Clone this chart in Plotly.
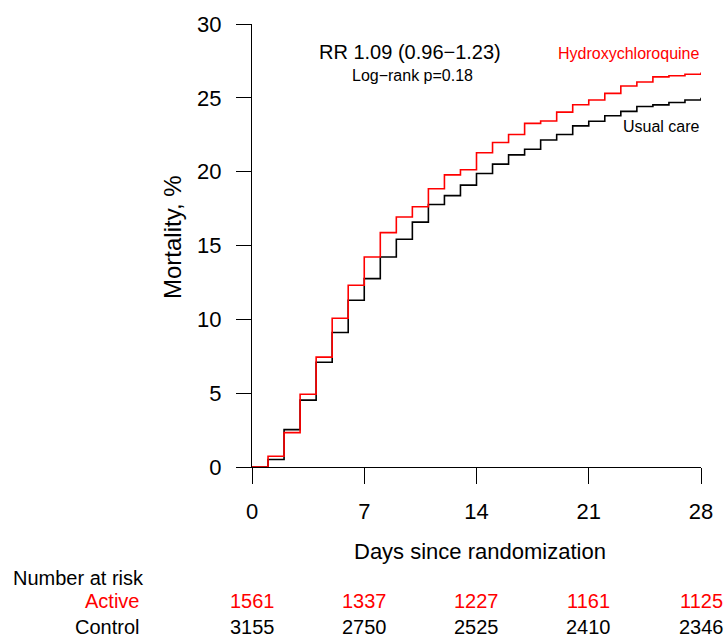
import plotly.graph_objects as go

days = list(range(0, 29))
hcq_mortality = [0, 0.73, 2.33, 4.93, 7.44, 10.07, 12.31, 14.22, 15.87, 16.93, 17.62,
                 18.84, 19.78, 20.13, 21.28, 21.98, 22.52, 23.27, 23.43, 24.03, 24.53,
                 24.85, 25.30, 25.80, 26.07, 26.42, 26.50, 26.60, 26.72]
usual_mortality = [0, 0.51, 2.53, 4.53, 7.09, 9.11, 11.29, 12.76, 14.22, 15.42, 16.58,
                   17.78, 18.38, 19.09, 19.88, 20.51, 21.14, 21.52, 22.14, 22.52, 23.10,
                   23.41, 23.79, 24.08, 24.41, 24.52, 24.68, 24.85, 25.01]
x_ticks = [0, 7, 14, 21, 28]
y_ticks = [0, 5, 10, 15, 20, 25, 30]
risk_days = [0, 7, 14, 21, 28]
active_at_risk = [1561, 1337, 1227, 1161, 1125]
control_at_risk = [3155, 2750, 2525, 2410, 2346]

FONT = "Liberation Sans, Arial, sans-serif"
W, H = 725, 641
# plot area in reference pixels: x 252..703, y 18..467
X0, X1, Y0, Y1 = 252, 703, 18, 467
L, R, T, B = X0, W - X1, Y0, H - Y1
PW, PH = X1 - X0, Y1 - Y0


def px(xp):
    return (xp - X0) / PW


def py(yp):
    return (Y1 - yp) / PH


fig = go.Figure()
fig.add_trace(go.Scatter(x=days, y=usual_mortality, mode="lines", line_shape="hv",
                         line=dict(color="black", width=1.6), showlegend=False))
fig.add_trace(go.Scatter(x=days, y=hcq_mortality, mode="lines", line_shape="hv",
                         line=dict(color="#ff0000", width=1.6), showlegend=False))

ann = []


def add(text, x, y, size, color="black", xanchor="center", xref="paper", angle=0):
    ann.append(dict(text=text, x=x, y=y, xref=xref, yref="paper",
                    xanchor=xanchor, yanchor="middle", showarrow=False, textangle=angle,
                    font=dict(family=FONT, size=size, color=color)))


add("RR 1.09 (0.96\u22121.23)", px(411), py(46), 20)
add("Log\u2212rank p=0.18", px(413), py(70), 16)
add("Hydroxychloroquine", px(704), py(48), 16, "#ff0000", "right")
add("Usual care", px(704), py(122), 16, "black", "right")
add("Mortality, %", px(172), 0.52, 24, angle=-90)
add("Days since randomization", px(481), py(553), 22)
add("Number at risk", px(10), py(580), 20, xanchor="left")
add("Active", px(141), py(603), 20, "#ff0000", "right")
add("Control", px(141), py(629), 20, "black", "right")
for d, a, c in zip(risk_days, active_at_risk, control_at_risk):
    add(str(a), d, py(603), 20, "#ff0000", xref="x")
    add(str(c), d, py(629), 20, "black", xref="x")

fig.update_layout(
    width=W, height=H,
    margin=dict(l=L, r=R, t=T, b=B, pad=0),
    paper_bgcolor="white", plot_bgcolor="white",
    font=dict(family=FONT, size=22, color="black"),
    annotations=ann,
    xaxis=dict(range=[0, 28], tickvals=x_ticks, ticktext=[str(v) for v in x_ticks],
               showgrid=False, zeroline=False, showline=True, linecolor="black", linewidth=1.2,
               ticks="outside", ticklen=16, tickwidth=1.2, tickcolor="black",
               ticklabelstandoff=8, tickfont=dict(family=FONT, size=22, color="black")),
    yaxis=dict(range=[0, 30], tickvals=y_ticks, ticktext=[str(v) for v in y_ticks],
               showgrid=False, zeroline=False, showline=True, linecolor="black", linewidth=1.2,
               ticks="outside", ticklen=15, tickwidth=1.2, tickcolor="black",
               ticklabelstandoff=10, tickfont=dict(family=FONT, size=22, color="black")),
)

fig.write_html("out.html", config={"displayModeBar": False},
               post_script="document.body.style.margin='0';document.body.style.overflow='hidden';")
